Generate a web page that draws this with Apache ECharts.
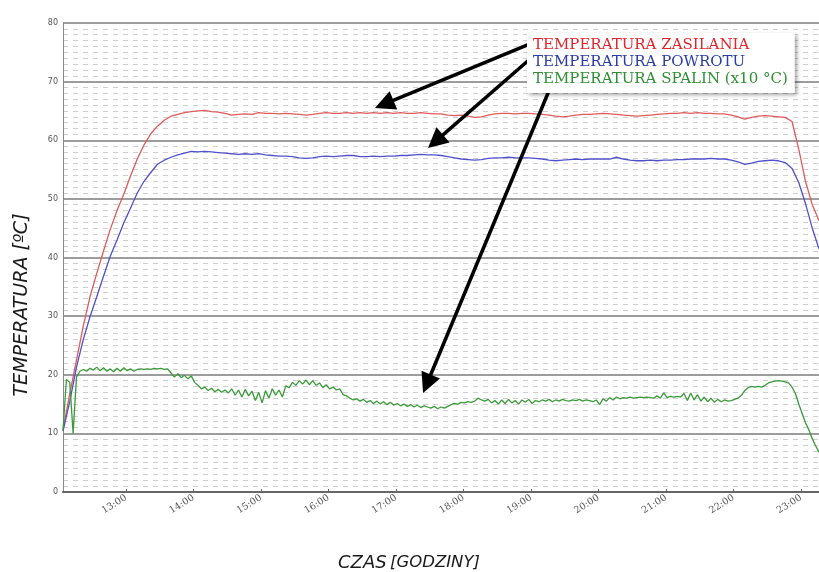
<!DOCTYPE html>
<html><head><meta charset="utf-8">
<script src="https://cdn.jsdelivr.net/npm/echarts@6/dist/echarts.min.js"></script>
<style>html,body{margin:0;padding:0;background:#fff}#c{width:819px;height:572px}</style>
</head><body><div id="c"></div>
<script>
// time axis (hours of day)
const startHour = 12 + 4 / 60;      // first sample 12:04
const endHour = 23 + 16 / 60;       // right edge of plot
const redBlueStep = 0.1;            // 6-minute samples
const greenStep = 0.05;             // 3-minute samples
const hourTicks = [13, 14, 15, 16, 17, 18, 19, 20, 21, 22, 23];
const hourLabels = ['13:00', '14:00', '15:00', '16:00', '17:00', '18:00', '19:00', '20:00', '21:00', '22:00', '23:00'];

const seriesNames = ['TEMPERATURA ZASILANIA', 'TEMPERATURA POWROTU', 'TEMPERATURA SPALIN (x10 °C)'];

const zasilanie = [
  10.6,16.8,22.5,28.3,33.3,37.3,41.1,44.8,48.0,50.8,53.9,56.8,59.2,61.1,62.4,63.4,64.1,64.4,64.7,64.9,
  65.0,65.1,64.9,64.8,64.6,64.3,64.4,64.5,64.4,64.7,64.6,64.6,64.5,64.6,64.5,64.4,64.3,64.4,64.6,64.7,
  64.6,64.6,64.7,64.6,64.7,64.6,64.7,64.6,64.7,64.6,64.7,64.6,64.6,64.7,64.6,64.5,64.5,64.3,64.2,64.3,
  64.1,63.9,64.0,64.3,64.5,64.6,64.6,64.5,64.6,64.6,64.5,64.4,64.3,64.1,64.0,64.1,64.3,64.4,64.4,64.5,
  64.6,64.5,64.4,64.3,64.2,64.1,64.2,64.3,64.4,64.5,64.6,64.6,64.7,64.6,64.7,64.6,64.6,64.5,64.5,64.3,
  64.0,63.6,63.9,64.1,64.2,64.1,64.0,63.9,63.2,58.5,53.0,49.0,46.3
];
const powrot = [
  10.4,15.4,21.3,26.0,29.9,33.3,36.8,40.2,43.0,45.9,48.4,51.0,53.0,54.5,55.9,56.6,57.1,57.5,57.8,58.1,
  58.0,58.1,58.0,57.9,57.8,57.7,57.6,57.7,57.6,57.7,57.5,57.4,57.3,57.3,57.2,57.0,56.9,57.0,57.2,57.3,
  57.2,57.3,57.4,57.4,57.2,57.2,57.3,57.2,57.3,57.3,57.4,57.4,57.5,57.6,57.5,57.5,57.4,57.2,57.0,56.8,
  56.7,56.6,56.7,56.9,57.0,57.0,57.1,57.0,57.0,57.0,56.9,56.8,56.6,56.5,56.6,56.7,56.8,56.7,56.8,56.8,
  56.8,56.8,57.1,56.8,56.6,56.5,56.5,56.6,56.5,56.6,56.6,56.7,56.7,56.8,56.8,56.8,56.9,56.8,56.8,56.6,
  56.3,55.9,56.1,56.4,56.5,56.6,56.5,56.2,55.2,52.8,49.2,45.0,41.5
];
const spaliny = [
  10.5,19.2,18.7,10.0,19.6,20.6,20.9,20.6,21.1,20.8,21.3,20.7,21.2,20.6,21.0,
  20.5,21.1,20.6,21.2,20.7,21.0,20.6,20.9,21.0,20.9,21.0,20.9,21.1,21.0,21.1,
  20.9,21.0,20.3,19.6,20.2,19.5,19.9,19.3,19.8,18.7,18.2,17.6,17.9,17.3,17.7,
  17.1,17.5,17.0,17.4,16.9,17.6,16.5,17.4,16.2,17.5,16.4,17.2,15.6,17.0,15.2,
  17.3,16.0,17.6,16.5,17.4,16.2,18.1,17.8,18.7,18.2,19.0,18.4,19.1,18.3,19.0,
  18.2,18.6,17.8,18.3,17.6,17.9,17.4,17.6,16.6,16.4,16.0,15.7,15.9,15.5,15.8,
  15.3,15.6,15.1,15.5,15.0,15.4,14.9,15.3,14.8,15.1,14.7,15.0,14.6,14.9,14.5,
  14.8,14.4,14.7,14.5,14.3,14.6,14.2,14.5,14.3,14.6,14.9,15.1,15.0,15.3,15.2,
  15.4,15.3,15.5,16.0,15.7,15.5,15.8,15.2,15.6,15.0,15.7,15.1,15.8,15.2,15.6,
  15.0,15.7,15.3,15.8,15.1,15.6,15.4,15.7,15.5,15.8,15.4,15.7,15.5,15.8,15.6,
  15.5,15.7,15.6,15.8,15.5,15.7,15.6,15.4,15.7,14.9,15.9,15.5,16.1,15.7,16.2,
  15.9,16.1,16.0,16.2,16.0,16.1,16.2,16.1,16.2,16.1,16.0,16.4,16.0,16.9,16.1,
  16.3,16.2,16.3,16.2,16.8,15.6,16.9,15.7,16.6,15.5,16.2,15.4,16.0,15.3,15.8,
  15.4,15.7,15.5,15.6,15.8,16.0,16.5,17.3,17.8,18.0,17.9,18.0,17.9,18.2,18.6,
  18.8,18.9,19.0,18.9,18.8,18.6,17.9,16.8,15.0,13.4,11.8,10.6,9.1,7.9,6.8
];

// annotation arrows: [from legend, to curve] in (hour, °C)
const arrows = [
  [[18.985, 76.42], [16.825, 66.15]],
  [[18.985, 73.86], [17.585, 59.80]],
  [[19.296, 69.25], [17.458, 18.46]]
];

function toPairs(vals, step) { return vals.map((v, i) => [startHour + i * step, v]); }

const chart = echarts.init(document.getElementById('c'), null, { renderer: 'canvas' });
const option = {
  animation: false,
  backgroundColor: '#ffffff',
  grid: { left: 63, right: 0, top: 23, bottom: 80 },
  legend: {
    orient: 'vertical', left: 527, top: 33, icon: 'none', itemWidth: 0, itemHeight: 15, itemGap: 2,
    padding: [5, 7, 6, 1], backgroundColor: '#ffffff',
    shadowColor: 'rgba(0,0,0,0.35)', shadowBlur: 4, shadowOffsetX: 2, shadowOffsetY: 2,
    selectedMode: false, z: 10,
    textStyle: { fontFamily: 'DejaVu Serif', fontSize: 15, lineHeight: 15 },
    data: [
      { name: seriesNames[0], textStyle: { color: '#e0262c' } },
      { name: seriesNames[1], textStyle: { color: '#2b3da6' } },
      { name: seriesNames[2], textStyle: { color: '#2f8f34' } }
    ]
  },
  xAxis: {
    type: 'value', min: startHour, max: endHour,
    axisLine: { show: true, onZero: false, lineStyle: { color: '#666', width: 2 } },
    axisTick: { show: true, inside: true, length: 3, customValues: hourTicks, lineStyle: { color: '#666' } },
    axisLabel: {
      customValues: hourTicks, rotate: 32, margin: 5,
      fontFamily: 'DejaVu Serif', fontSize: 9.5, color: '#555',
      formatter: v => hourLabels[hourTicks.indexOf(Math.round(v))]
    },
    splitLine: { show: false }
  },
  yAxis: {
    type: 'value', min: 0, max: 80, interval: 10,
    axisLine: { show: true, lineStyle: { color: '#888', width: 1 } },
    axisTick: { show: false },
    axisLabel: { fontFamily: 'DejaVu Sans', fontSize: 8, color: '#555', margin: 5 },
    splitLine: { show: true, lineStyle: { color: '#7d7d7d', width: 1.6 } },
    minorTick: { show: false, splitNumber: 10 },
    minorSplitLine: { show: true, lineStyle: { color: '#cfcfcf', width: 1, type: [5, 5] } }
  },
  series: [
    {
      name: seriesNames[0], type: 'line', showSymbol: false, data: toPairs(zasilanie, redBlueStep),
      lineStyle: { color: '#e05a5a', width: 1.3 }, itemStyle: { color: '#e05a5a' }, z: 3,
      markLine: {
        silent: true, z: 6, animation: false,
        symbol: ['none', 'triangle'], symbolSize: [20, 20],
        label: { show: false },
        lineStyle: { color: '#000', width: 3.5, type: 'solid' },
        emphasis: { disabled: true },
        data: arrows.map(a => [{ coord: a[0] }, { coord: a[1] }])
      }
    },
    {
      name: seriesNames[1], type: 'line', showSymbol: false, data: toPairs(powrot, redBlueStep),
      lineStyle: { color: '#5050cc', width: 1.3 }, itemStyle: { color: '#5050cc' }, z: 3
    },
    {
      name: seriesNames[2], type: 'line', showSymbol: false, data: toPairs(spaliny, greenStep),
      lineStyle: { color: '#3a9a3a', width: 1.3 }, itemStyle: { color: '#3a9a3a' }, z: 3
    }
  ],
  graphic: [
    {
      type: 'text', x: 22, y: 305, rotation: Math.PI / 2,
      style: {
        text: 'TEMPERATURA [ºC]', fontFamily: 'DejaVu Sans', fontStyle: 'italic', fontSize: 19,
        fill: '#1a1a1a', align: 'center', verticalAlign: 'middle'
      }
    },
    {
      type: 'text', x: 409, y: 563,
      style: {
        text: '{a|CZAS} {b|[GODZINY]}', align: 'center', verticalAlign: 'middle',
        rich: {
          a: { fontFamily: 'DejaVu Sans', fontStyle: 'italic', fontSize: 18, fill: '#1a1a1a' },
          b: { fontFamily: 'DejaVu Sans', fontStyle: 'italic', fontSize: 16.5, fill: '#1a1a1a' }
        }
      }
    }
  ]
};
chart.setOption(option);
</script>
</body></html>
